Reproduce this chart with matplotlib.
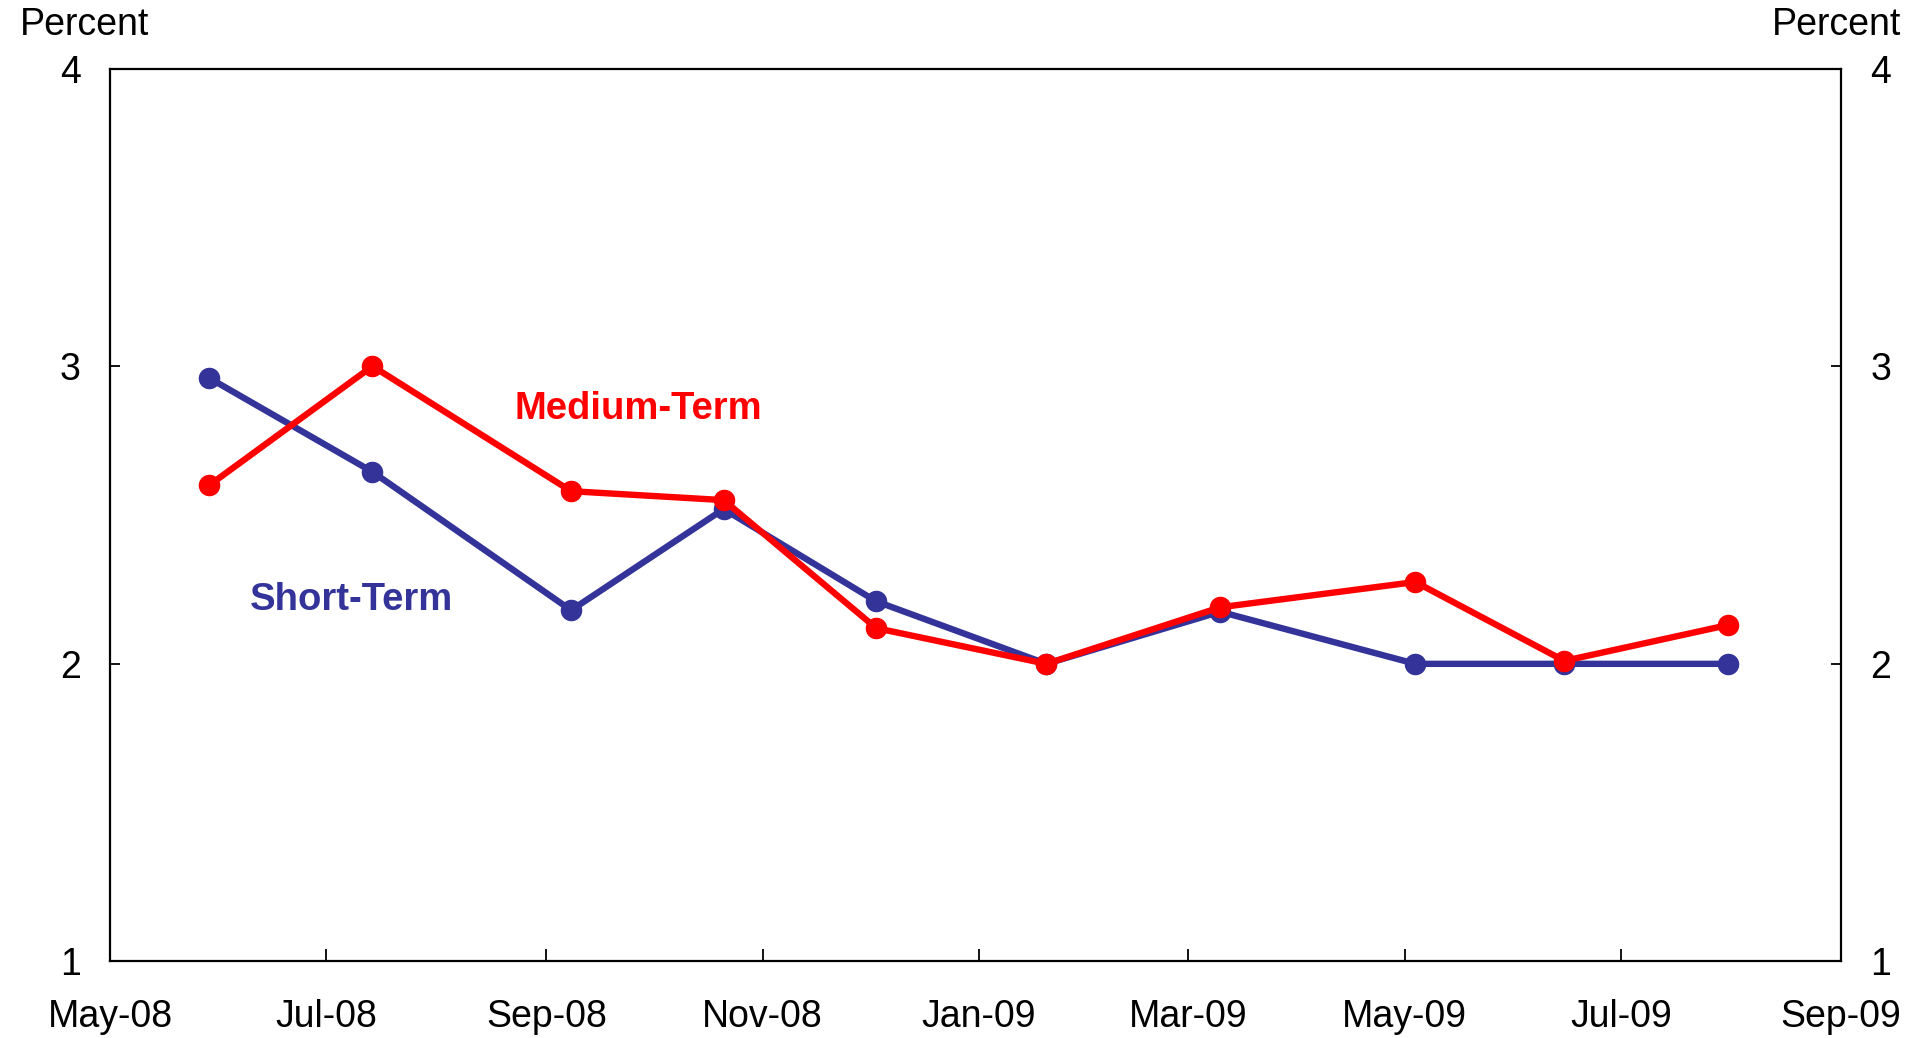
import matplotlib
matplotlib.use("Agg")
import matplotlib.pyplot as plt
import matplotlib.dates as mdates
import numpy as np
import datetime as dt

# ---- data ----
dates = ["2008-05-29", "2008-07-14", "2008-09-08", "2008-10-21", "2008-12-03",
         "2009-01-20", "2009-03-10", "2009-05-04", "2009-06-15", "2009-07-31"]
short_term = [2.96, 2.645, 2.18, 2.52, 2.21, 2.0, 2.175, 2.0, 2.0, 2.0]
medium_term = [2.60, 3.0, 2.58, 2.55, 2.12, 2.0, 2.19, 2.275, 2.01, 2.13]
y_ticks = [1, 2, 3, 4]

x = [dt.datetime.strptime(d, "%Y-%m-%d") for d in dates]

plt.rcParams['font.family'] = ['Liberation Sans', 'DejaVu Sans']

fig = plt.figure(figsize=(19.09, 10.38), dpi=100)
ax = fig.add_axes([0.0576, 0.0737, 0.9068, 0.8603])

blue = "#333399"
red = "#FF0000"
ax.plot(x, short_term, color=blue, lw=4.6, marker='o', ms=14.5, zorder=3)
ax.plot(x, medium_term, color=red, lw=4.6, marker='o', ms=14.5, zorder=4)

ax.set_xlim(dt.datetime(2008, 5, 1), dt.datetime(2009, 9, 1))
ax.set_ylim(1, 4)
ax.set_yticks(y_ticks)
ax.set_yticklabels([str(v) for v in y_ticks])
ax.xaxis.set_major_locator(mdates.MonthLocator(bymonth=[1, 3, 5, 7, 9, 11]))
ax.xaxis.set_major_formatter(mdates.DateFormatter('%b-%y'))

for s in ax.spines.values():
    s.set_linewidth(1.6)
    s.set_color('black')

ax.tick_params(axis='y', direction='in', length=7, width=1.3, labelsize=27,
               left=True, right=True, labelleft=True, labelright=True, pad=21)
ax.tick_params(axis='x', direction='in', length=9, width=1.3, labelsize=27, pad=27)

ax.text(dt.datetime(2008, 9, 27), 2.821, "Medium-Term", color=red, fontsize=27.5,
        fontweight='bold', ha='center', va='baseline')
ax.text(dt.datetime(2008, 7, 8), 2.182, "Short-Term", color=blue, fontsize=27.5,
        fontweight='bold', ha='center', va='baseline')

fig.text(0.0105, 0.9663, "Percent", fontsize=27, ha='left', va='baseline')
fig.text(0.9958, 0.9663, "Percent", fontsize=27, ha='right', va='baseline')

fig.savefig("out.png", dpi=100)
